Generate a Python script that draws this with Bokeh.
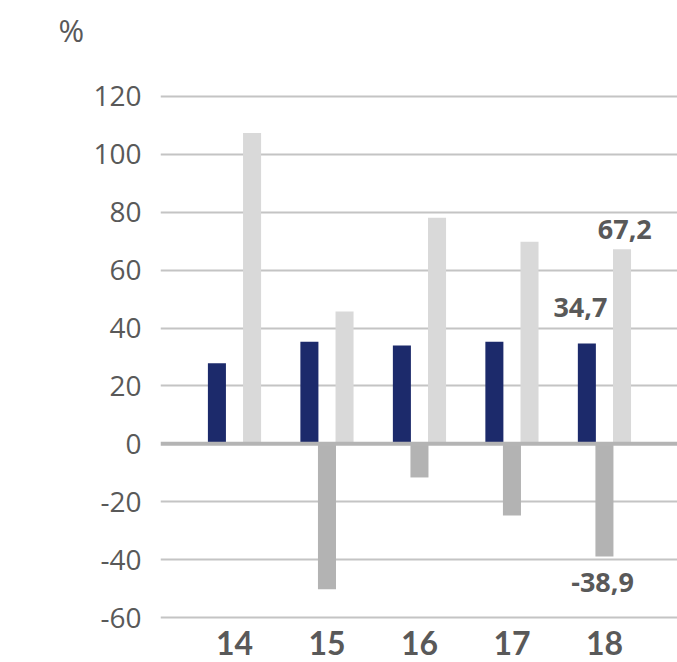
from bokeh.plotting import figure
from bokeh.models import FixedTicker, Span, Range1d, Title
from bokeh.core.properties import value
from bokeh.embed import file_html
from bokeh.resources import INLINE

# Data
years = ["14", "15", "16", "17", "18"]
series_a = [27.8, 35.3, 34.0, 35.3, 34.7]      # dark blue
series_b = [None, -50.2, -11.6, -24.7, -38.9]  # mid grey (negative)
series_c = [107.4, 45.7, 78.1, 69.8, 67.2]     # light grey
y_ticks = [-60, -40, -20, 0, 20, 40, 60, 80, 100, 120]

NAVY = "#1c2a6b"
MID = "#b3b3b3"
LIGHT = "#d9d9d9"
TEXT = "#595959"
FONT = "Open Sans"

W, H = 677, 662
p = figure(width=W, height=H, output_backend="svg", toolbar_location=None,
           x_range=Range1d(-0.8, 4.79), y_range=Range1d(-61, 121),
           min_border_left=160, min_border_right=0,
           min_border_top=93, min_border_bottom=42)
p.outline_line_color = None
p.background_fill_color = "white"
p.border_fill_color = "white"
p.title = None

# Blank band between the frame and the unit label
p.add_layout(Title(text=" ", standoff=0, text_font=FONT,
                   text_font_size="30px"), "above")
# Unit label above the value axis
p.add_layout(Title(text="%", align="left", offset=-102, standoff=0,
                   text_font=FONT, text_font_size="31px",
                   text_font_style="normal", text_color=TEXT), "above")

idx = list(range(len(years)))
bw = 0.195
off = 0.19

p.vbar(x=[i - off for i in idx], top=series_a, width=bw, bottom=0,
       fill_color=NAVY, line_color=None)
bx = [i for i, v in zip(idx, series_b) if v is not None]
bv = [v for v in series_b if v is not None]
p.vbar(x=bx, top=bv, width=bw, bottom=0, fill_color=MID, line_color=None)
p.vbar(x=[i + off for i in idx], top=series_c, width=bw, bottom=0,
       fill_color=LIGHT, line_color=None)

# Zero line
p.add_layout(Span(location=0, dimension="width", line_color="#b4b4b4",
                  line_width=4))

# Grid
p.xgrid.visible = False
p.ygrid.ticker = FixedTicker(ticks=[t for t in y_ticks if t != 0])
p.ygrid.grid_line_color = "#c4c4c4"
p.ygrid.grid_line_width = 2

# Y axis
p.yaxis.ticker = FixedTicker(ticks=y_ticks)
p.yaxis.major_label_overrides = {t: str(t) for t in y_ticks}
p.yaxis.axis_line_color = None
p.yaxis.major_tick_line_color = None
p.yaxis.minor_tick_line_color = None
p.yaxis.major_tick_out = 0
p.yaxis.major_label_standoff = 19
p.yaxis.major_label_text_font = FONT
p.yaxis.major_label_text_font_size = "28px"
p.yaxis.major_label_text_color = TEXT

# X axis
p.xaxis.ticker = FixedTicker(ticks=idx)
p.xaxis.major_label_overrides = {i: y for i, y in zip(idx, years)}
p.xaxis.axis_line_color = None
p.xaxis.major_tick_line_color = None
p.xaxis.minor_tick_line_color = None
p.xaxis.major_tick_out = 0
p.xaxis.major_label_standoff = 10
p.xaxis.major_label_text_font = "Lato"
p.xaxis.major_label_text_font_style = "bold"
p.xaxis.major_label_text_font_size = "32px"
p.xaxis.major_label_text_color = TEXT

# Value labels for the last year
last = len(years) - 1
p.text(x=[last - off - 0.07], y=[series_a[last]], text=["34,7"],
       y_offset=-36, text_align="center", text_baseline="alphabetic",
       text_font=value(FONT), text_font_style="bold",
       text_font_size="27px", text_color=TEXT)
p.text(x=[last + off + 0.03], y=[series_c[last]], text=["67,2"],
       y_offset=-20, text_align="center", text_baseline="alphabetic",
       text_font=value(FONT), text_font_style="bold",
       text_font_size="27px", text_color=TEXT)
p.text(x=[last - 0.02], y=[series_b[last]], text=["-38,9"],
       y_offset=16, text_align="center", text_baseline="top",
       text_font=value(FONT), text_font_style="bold",
       text_font_size="27px", text_color=TEXT)

open("out.html", "w").write(file_html(p, INLINE))
